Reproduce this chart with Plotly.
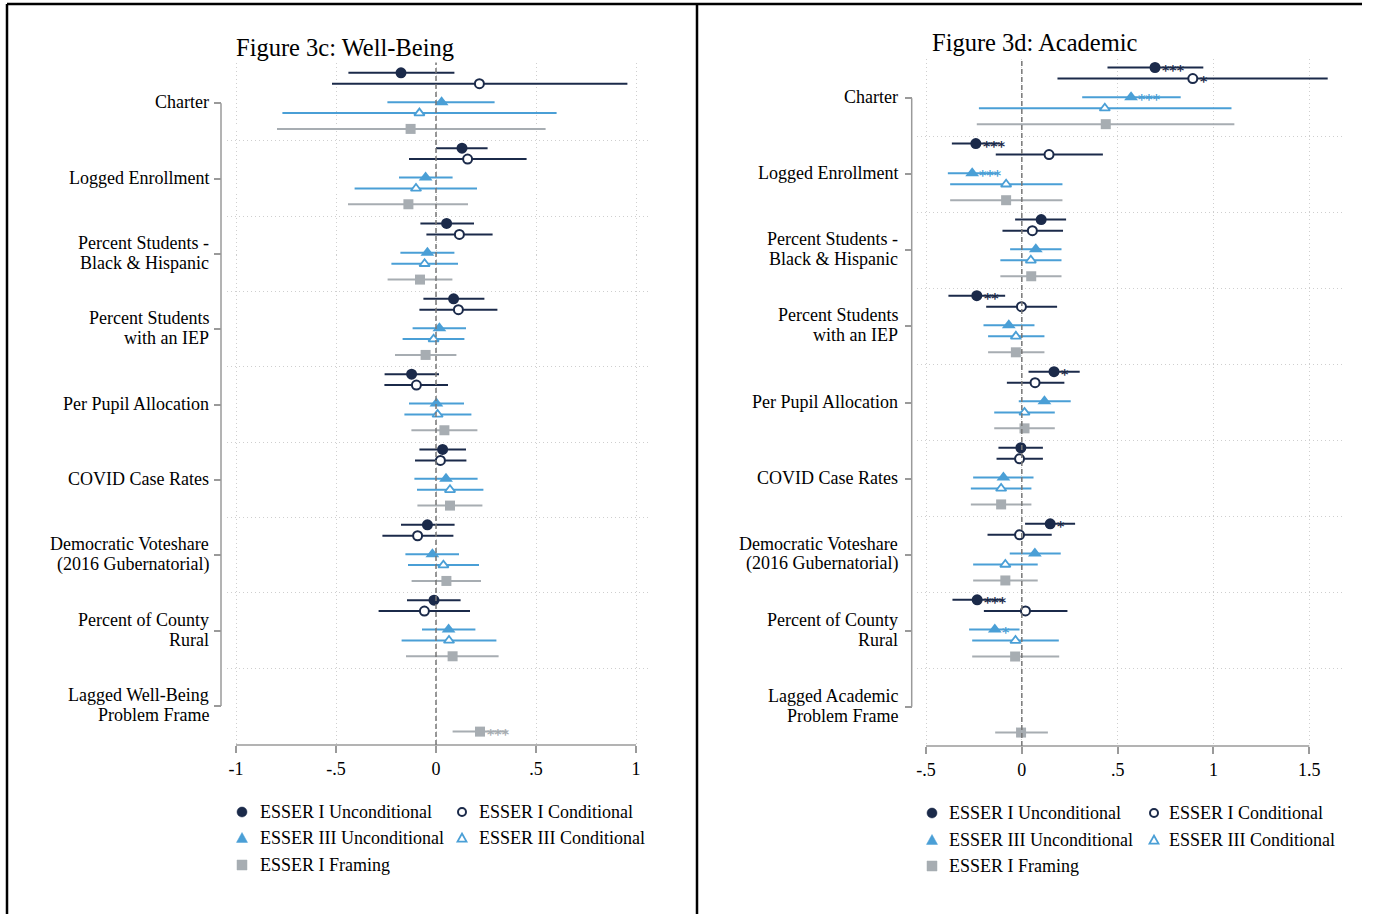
import plotly.graph_objects as go

W, H = 1373, 914

# ---------------------------------------------------------------- data
wb_labels = ["Charter", "Logged Enrollment", "Percent Students -\nBlack & Hispanic",
             "Percent Students\nwith an IEP", "Per Pupil Allocation", "COVID Case Rates",
             "Democratic Voteshare\n(2016 Gubernatorial)", "Percent of County\nRural",
             "Lagged Well-Being\nProblem Frame"]
ac_labels = ["Charter", "Logged Enrollment", "Percent Students -\nBlack & Hispanic",
             "Percent Students\nwith an IEP", "Per Pupil Allocation", "COVID Case Rates",
             "Democratic Voteshare\n(2016 Gubernatorial)", "Percent of County\nRural",
             "Lagged Academic\nProblem Frame"]

series_names = ["ESSER I Unconditional", "ESSER I Conditional",
                "ESSER III Unconditional", "ESSER III Conditional", "ESSER I Framing"]

wb_xticks = [-1, -0.5, 0, 0.5, 1]
wb_xticktext = ["-1", "-.5", "0", ".5", "1"]
ac_xticks = [-0.5, 0, 0.5, 1, 1.5]
ac_xticktext = ["-.5", "0", ".5", "1", "1.5"]

# Figure 3c: Well-Being  (point estimate, 95% CI low, 95% CI high, stars)
wb_e1u = [-0.175, 0.130, 0.053, 0.088, -0.122, 0.033, -0.043, -0.010, None]
wb_e1u_lo = [-0.438, 0.000, -0.078, -0.063, -0.257, -0.083, -0.175, -0.145, None]
wb_e1u_hi = [0.092, 0.258, 0.190, 0.242, 0.015, 0.150, 0.093, 0.123, None]
wb_e1u_sig = ["", "", "", "", "", "", "", "", ""]

wb_e1c = [0.217, 0.158, 0.117, 0.112, -0.098, 0.022, -0.092, -0.058, None]
wb_e1c_lo = [-0.520, -0.135, -0.048, -0.083, -0.258, -0.105, -0.268, -0.287, None]
wb_e1c_hi = [0.957, 0.453, 0.283, 0.307, 0.060, 0.152, 0.087, 0.170, None]
wb_e1c_sig = ["", "", "", "", "", "", "", "", ""]

wb_e3u = [0.028, -0.052, -0.043, 0.017, 0.002, 0.050, -0.018, 0.063, None]
wb_e3u_lo = [-0.243, -0.185, -0.178, -0.117, -0.135, -0.108, -0.153, -0.070, None]
wb_e3u_hi = [0.293, 0.083, 0.092, 0.150, 0.140, 0.208, 0.115, 0.197, None]
wb_e3u_sig = ["", "", "", "", "", "", "", "", ""]

wb_e3c = [-0.083, -0.100, -0.057, -0.012, 0.008, 0.070, 0.037, 0.065, None]
wb_e3c_lo = [-0.768, -0.407, -0.223, -0.167, -0.158, -0.095, -0.140, -0.172, None]
wb_e3c_hi = [0.603, 0.205, 0.110, 0.142, 0.177, 0.237, 0.215, 0.302, None]
wb_e3c_sig = ["", "", "", "", "", "", "", "", ""]

wb_fr = [-0.127, -0.138, -0.080, -0.052, 0.042, 0.070, 0.052, 0.083, 0.220]
wb_fr_lo = [-0.795, -0.440, -0.242, -0.205, -0.123, -0.093, -0.122, -0.150, 0.083]
wb_fr_hi = [0.548, 0.160, 0.082, 0.102, 0.207, 0.232, 0.225, 0.313, 0.357]
wb_fr_sig = ["", "", "", "", "", "", "", "", "***"]

# Figure 3d: Academic
ac_e1u = [0.695, -0.240, 0.101, -0.235, 0.168, -0.005, 0.148, -0.233, None]
ac_e1u_lo = [0.447, -0.365, -0.035, -0.383, 0.035, -0.122, 0.017, -0.362, None]
ac_e1u_hi = [0.947, -0.115, 0.231, -0.087, 0.302, 0.110, 0.278, -0.104, None]
ac_e1u_sig = ["***", "***", "", "**", "*", "", "*", "***", ""]

ac_e1c = [0.892, 0.142, 0.055, -0.002, 0.069, -0.012, -0.012, 0.019, None]
ac_e1c_lo = [0.186, -0.136, -0.101, -0.186, -0.078, -0.132, -0.179, -0.198, None]
ac_e1c_hi = [1.596, 0.423, 0.215, 0.184, 0.222, 0.110, 0.156, 0.238, None]
ac_e1c_sig = ["*", "", "", "", "", "", "", "", ""]

ac_e3u = [0.570, -0.259, 0.073, -0.068, 0.118, -0.096, 0.068, -0.141, None]
ac_e3u_lo = [0.315, -0.386, -0.061, -0.200, -0.016, -0.254, -0.063, -0.275, None]
ac_e3u_hi = [0.829, -0.132, 0.207, 0.066, 0.255, 0.061, 0.203, -0.012, None]
ac_e3u_sig = ["***", "***", "", "", "", "", "", "*", ""]

ac_e3c = [0.433, -0.082, 0.047, -0.031, 0.014, -0.108, -0.086, -0.033, None]
ac_e3c_lo = [-0.224, -0.374, -0.112, -0.176, -0.144, -0.266, -0.254, -0.259, None]
ac_e3c_hi = [1.094, 0.212, 0.207, 0.118, 0.172, 0.050, 0.083, 0.193, None]
ac_e3c_sig = ["", "", "", "", "", "", "", "", ""]

ac_fr = [0.438, -0.082, 0.049, -0.031, 0.014, -0.108, -0.086, -0.035, -0.004]
ac_fr_lo = [-0.235, -0.374, -0.112, -0.176, -0.144, -0.266, -0.254, -0.259, -0.139]
ac_fr_hi = [1.109, 0.212, 0.207, 0.118, 0.172, 0.050, 0.083, 0.195, 0.136]
ac_fr_sig = ["", "", "", "", "", "", "", "", ""]

# ---------------------------------------------------------------- styles
NAVY = "#1b2a4a"
BLUE = "#4a9fd6"
GRAY = "#a7adb2"
FONT = "Liberation Serif"

STYLE = [
    dict(color=NAVY, symbol="circle", size=11, fill=NAVY, lw=0),
    dict(color=NAVY, symbol="circle", size=9, fill="white", lw=2),
    dict(color=BLUE, symbol="triangle-up", size=12, fill=BLUE, lw=0),
    dict(color=BLUE, symbol="triangle-up", size=9, fill="white", lw=1.8),
    dict(color=GRAY, symbol="square", size=10, fill=GRAY, lw=0),
]
# vertical placement of each model inside a category band
ROW_OFFSET = [-0.405, -0.26, -0.015, 0.13, 0.34]


def px_x(v):
    return v / W


def px_y(v):
    return 1 - v / H


panels = [
    dict(xa="x", ya="y", labels=wb_labels, xticks=wb_xticks, xticktext=wb_xticktext,
         title="Figure 3c: Well-Being",
         series=[(wb_e1u, wb_e1u_lo, wb_e1u_hi, wb_e1u_sig),
                 (wb_e1c, wb_e1c_lo, wb_e1c_hi, wb_e1c_sig),
                 (wb_e3u, wb_e3u_lo, wb_e3u_hi, wb_e3u_sig),
                 (wb_e3c, wb_e3c_lo, wb_e3c_hi, wb_e3c_sig),
                 (wb_fr, wb_fr_lo, wb_fr_hi, wb_fr_sig)],
         plot_x=(227, 650), xt_px=(236, 636), plot_y=(62.5, 745), yt_px=(103.3, 706),
         yaxis_px=221, label_px=210, title_px=(234, 47),
         leg_cols=(242, 462), leg_text=(258, 477), leg_rows=(812, 838, 865)),
    dict(xa="x2", ya="y2", labels=ac_labels, xticks=ac_xticks, xticktext=ac_xticktext,
         title="Figure 3d: Academic",
         series=[(ac_e1u, ac_e1u_lo, ac_e1u_hi, ac_e1u_sig),
                 (ac_e1c, ac_e1c_lo, ac_e1c_hi, ac_e1c_sig),
                 (ac_e3u, ac_e3u_lo, ac_e3u_hi, ac_e3u_sig),
                 (ac_e3c, ac_e3c_lo, ac_e3c_hi, ac_e3c_sig),
                 (ac_fr, ac_fr_lo, ac_fr_hi, ac_fr_sig)],
         plot_x=(917, 1342), xt_px=(926, 1309.3), plot_y=(59, 746), yt_px=(98.3, 706.7),
         yaxis_px=911.7, label_px=899, title_px=(930, 43),
         leg_cols=(932, 1154), leg_text=(947, 1167), leg_rows=(813, 840, 866)),
]

fig = go.Figure()
shapes = []
annotations = []
layout_axes = {}

for p in panels:
    n = len(p["labels"])
    # ---- axes geometry
    x0v, x1v = p["xticks"][0], p["xticks"][-1]
    ppx = (p["xt_px"][1] - p["xt_px"][0]) / (x1v - x0v)
    xr = [x0v + (p["plot_x"][0] - p["xt_px"][0]) / ppx,
          x1v + (p["plot_x"][1] - p["xt_px"][1]) / ppx]
    ppy = (p["yt_px"][1] - p["yt_px"][0]) / (n - 1)
    ytop = (p["plot_y"][0] - p["yt_px"][0]) / ppy
    ybot = (n - 1) + (p["plot_y"][1] - p["yt_px"][1]) / ppy

    xkey = "xaxis" if p["xa"] == "x" else "xaxis2"
    ykey = "yaxis" if p["ya"] == "y" else "yaxis2"
    layout_axes[xkey] = dict(
        domain=[px_x(p["plot_x"][0]), px_x(p["plot_x"][1])], range=xr,
        anchor=p["ya"], tickmode="array", tickvals=p["xticks"], ticktext=p["xticktext"],
        ticks="outside", ticklen=7, tickwidth=1.5, tickcolor="#9a9a9a",
        showline=False, zeroline=False,
        showgrid=True, gridcolor="#cfcfcf", gridwidth=1, griddash="1px,3px",
        tickfont=dict(family=FONT, size=18, color="black"),
    )
    layout_axes[ykey] = dict(
        domain=[px_y(p["plot_y"][1]), px_y(p["plot_y"][0])], range=[ybot, ytop],
        anchor="free", position=px_x(p["yaxis_px"]),
        tickmode="array", tickvals=list(range(n)), showticklabels=False,
        ticks="outside", ticklen=7, tickwidth=1.5, tickcolor="#9a9a9a",
        showline=False, zeroline=False, showgrid=False,
        minor=dict(tickmode="array", tickvals=[i + 0.5 for i in range(n - 1)],
                   showgrid=True, gridcolor="#cfcfcf", gridwidth=1, griddash="1px,3px",
                   ticks=""),
    )

    # ---- axis lines, zero reference
    shapes.append(dict(type="line", xref=p["xa"], yref=f"{p['ya']} domain",
                       x0=x0v, x1=x1v, y0=0, y1=0, line=dict(color="#9a9a9a", width=1.5)))
    shapes.append(dict(type="line", xref="paper", yref=p["ya"],
                       x0=px_x(p["yaxis_px"]), x1=px_x(p["yaxis_px"]), y0=0, y1=n - 1,
                       line=dict(color="#9a9a9a", width=1.5)))
    shapes.append(dict(type="line", xref=p["xa"], yref=f"{p['ya']} domain",
                       x0=0, x1=0, y0=0, y1=1,
                       line=dict(color="#777777", width=1.5, dash="5px,3px")))

    # ---- coefficient markers with confidence intervals
    for s, (est, lo, hi, sig) in enumerate(p["series"]):
        st = STYLE[s]
        idx = [i for i, v in enumerate(est) if v is not None]
        fig.add_trace(go.Scatter(
            x=[est[i] for i in idx], y=[i + ROW_OFFSET[s] for i in idx],
            xaxis=p["xa"], yaxis=p["ya"], mode="markers",
            marker=dict(symbol=st["symbol"], size=st["size"], color=st["fill"],
                        line=dict(color=st["color"], width=st["lw"])),
            error_x=dict(type="data", symmetric=False,
                         array=[hi[i] - est[i] for i in idx],
                         arrayminus=[est[i] - lo[i] for i in idx],
                         color=st["color"], thickness=2, width=0),
            name=series_names[s], showlegend=False, cliponaxis=False,
        ))
        # significance stars next to the point estimate
        for i in idx:
            if sig[i]:
                annotations.append(dict(
                    text=sig[i], xref=p["xa"], yref=p["ya"], x=est[i], y=i + ROW_OFFSET[s],
                    xanchor="left", yanchor="middle", xshift=6, yshift=-2,
                    showarrow=False, borderpad=0,
                    font=dict(family="DejaVu Sans", size=14, weight="bold",
                              color=st["color"])))

    # ---- category labels
    for i, lab in enumerate(p["labels"]):
        lines = lab.split("\n")
        k = len(lines)
        for j, line in enumerate(lines):
            annotations.append(dict(
                text=line, xref="paper", yref=p["ya"], x=px_x(p["label_px"]), y=i,
                xanchor="right", yanchor="middle", showarrow=False, borderpad=0,
                yshift=-(j - (k - 1) / 2) * 20 + 1,
                font=dict(family=FONT, size=18, color="black")))

    # ---- title
    annotations.append(dict(text=p["title"], xref="paper", yref="paper",
                            x=px_x(p["title_px"][0]), y=px_y(p["title_px"][1]),
                            xanchor="left", yanchor="middle", showarrow=False,
                            font=dict(family=FONT, size=24.5, color="black")))

    # ---- legend keys
    cells = [(0, 0), (0, 1), (1, 0), (1, 1), (2, 0)]
    for s, (r, c) in enumerate(cells):
        st = STYLE[s]
        cx, cy = p["leg_cols"][c], p["leg_rows"][r]
        if st["symbol"] == "circle":
            rr = 5 if st["lw"] == 0 else 4
            shapes.append(dict(type="circle", xref="paper", yref="paper",
                               x0=px_x(cx - rr), x1=px_x(cx + rr),
                               y0=px_y(cy + rr), y1=px_y(cy - rr),
                               fillcolor=st["fill"],
                               line=dict(color=st["color"], width=st["lw"] or 0.5)))
        elif st["symbol"] == "triangle-up":
            rr = 5.5 if st["lw"] == 0 else 4.5
            path = (f"M {px_x(cx - rr)},{px_y(cy + rr * 0.8)} "
                    f"L {px_x(cx + rr)},{px_y(cy + rr * 0.8)} "
                    f"L {px_x(cx)},{px_y(cy - rr)} Z")
            shapes.append(dict(type="path", xref="paper", yref="paper", path=path,
                               fillcolor=st["fill"],
                               line=dict(color=st["color"], width=st["lw"] or 0.5)))
        else:
            rr = 5
            shapes.append(dict(type="rect", xref="paper", yref="paper",
                               x0=px_x(cx - rr), x1=px_x(cx + rr),
                               y0=px_y(cy + rr), y1=px_y(cy - rr),
                               fillcolor=st["fill"], line=dict(color=st["color"], width=0.5)))
        annotations.append(dict(text=series_names[s], xref="paper", yref="paper",
                                x=px_x(p["leg_text"][c]), y=px_y(cy),
                                xanchor="left", yanchor="middle", showarrow=False,
                                font=dict(family=FONT, size=18, color="black")))

# ---- page frame
frame = dict(color="black", width=2.5)
shapes += [
    dict(type="line", xref="paper", yref="paper", x0=px_x(7), x1=px_x(7),
         y0=px_y(4), y1=0, line=frame),
    dict(type="line", xref="paper", yref="paper", x0=px_x(7), x1=px_x(1362),
         y0=px_y(4), y1=px_y(4), line=frame),
    dict(type="line", xref="paper", yref="paper", x0=px_x(697), x1=px_x(697),
         y0=px_y(4), y1=0, line=frame),
]

fig.update_layout(
    width=W, height=H, margin=dict(l=0, r=0, t=0, b=0),
    paper_bgcolor="white", plot_bgcolor="white",
    showlegend=False, shapes=shapes, annotations=annotations,
    **layout_axes,
)

fig.write_html("out.html")
